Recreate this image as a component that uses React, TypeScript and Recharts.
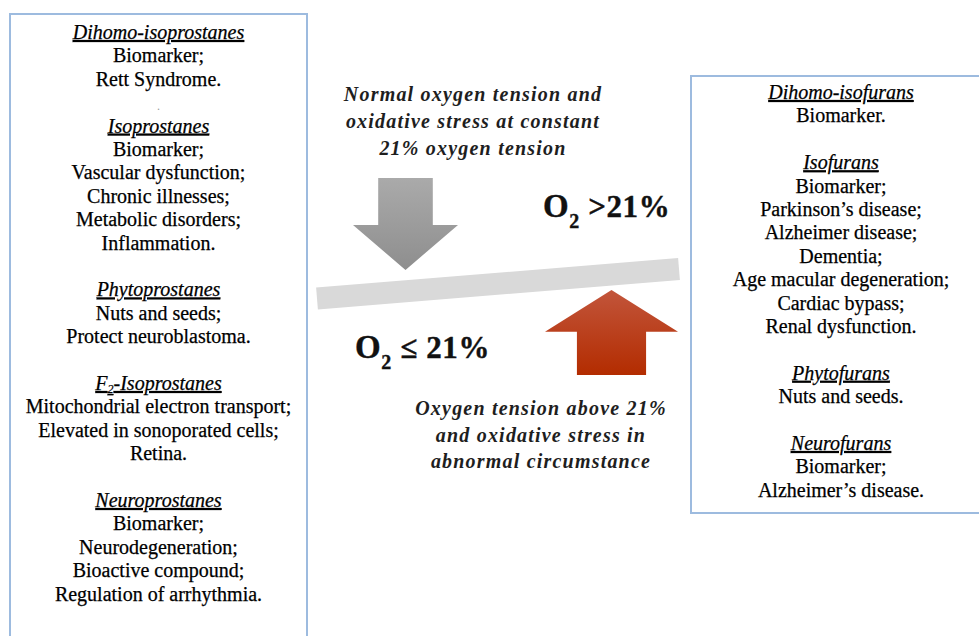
import React from 'react';
import { ComposedChart, XAxis, YAxis, Scatter, ReferenceArea, ReferenceLine } from 'recharts';

const W = 979;
const H = 636;

// ---- text content ----
const leftTitles = ['Dihomo-isoprostanes', 'Isoprostanes', 'Phytoprostanes', 'F_2-Isoprostanes', 'Neuroprostanes'];
const leftItems = [
  ['Biomarker;', 'Rett Syndrome.'],
  ['Biomarker;', 'Vascular dysfunction;', 'Chronic illnesses;', 'Metabolic disorders;', 'Inflammation.'],
  ['Nuts and seeds;', 'Protect neuroblastoma.'],
  ['Mitochondrial electron transport;', 'Elevated in sonoporated cells;', 'Retina.'],
  ['Biomarker;', 'Neurodegeneration;', 'Bioactive compound;', 'Regulation of arrhythmia.'],
];
const leftSeparators = ['.', '', '', '', ''];

const rightTitles = ['Dihomo-isofurans', 'Isofurans', 'Phytofurans', 'Neurofurans'];
const rightItems = [
  ['Biomarker.'],
  ['Biomarker;', 'Parkinson’s disease;', 'Alzheimer disease;', 'Dementia;', 'Age macular degeneration;', 'Cardiac bypass;', 'Renal dysfunction.'],
  ['Nuts and seeds.'],
  ['Biomarker;', 'Alzheimer’s disease.'],
];
const rightSeparators = ['', '', '', ''];

const topCaption = ['Normal oxygen tension and', 'oxidative stress at constant', '21% oxygen tension'];
const bottomCaption = ['Oxygen tension above 21%', 'and oxidative stress in', 'abnormal circumstance'];
const highLabel = ['O', '2', ' >21%'];
const lowLabel = ['O', '2', ' ≤ 21%'];

// ---- layout ----
const LINE = 23.4;
const FONT = "'Liberation Serif', 'Times New Roman', serif";

type Line = { x: number; y: number; text: string; kind: string };

function buildColumn(titles: string[], items: string[][], seps: string[], cx: number, y0: number): Line[] {
  const out: Line[] = [];
  let i = 0;
  titles.forEach((t, g) => {
    out.push({ x: cx, y: y0 + i * LINE, text: t, kind: 'title' });
    i++;
    items[g].forEach((s) => {
      out.push({ x: cx, y: y0 + i * LINE, text: s, kind: 'body' });
      i++;
    });
    if (seps[g]) out.push({ x: cx, y: y0 + i * LINE + 1, text: seps[g], kind: 'dot' });
    i++;
  });
  return out;
}

const leftLines = buildColumn(leftTitles, leftItems, leftSeparators, 158.5, 39);
const rightLines = buildColumn(rightTitles, rightItems, rightSeparators, 841, 99);
const topLines: Line[] = topCaption.map((t, i) => ({ x: 473, y: 101 + i * 27, text: t, kind: 'caption' }));
const bottomLines: Line[] = bottomCaption.map((t, i) => ({ x: 541, y: 415 + i * 26.5, text: t, kind: 'caption' }));
const bigLines: Line[] = [
  { x: 543, y: 217, text: highLabel.join('|'), kind: 'big' },
  { x: 355, y: 358, text: lowLabel.join('|'), kind: 'big' },
];

function renderSub(text: string) {
  const m = text.split(/_(\d)/);
  if (m.length === 1) return text;
  return [
    <tspan key="a">{m[0]}</tspan>,
    <tspan key="b" fontSize={12} dy={3}>{m[1]}</tspan>,
    <tspan key="c" dy={-3}>{m[2]}</tspan>,
  ];
}

const TextShape = (props: any) => {
  const { cx, cy, payload } = props;
  if (cx == null || cy == null || !payload) return <g />;
  const { text, kind } = payload as Line;
  if (kind === 'big') {
    const [a, b, c] = text.split('|');
    return (
      <text x={cx} y={cy} fontFamily={FONT} fontWeight="bold" fontSize={31} letterSpacing={0.6}
        fill="#111" stroke="#111" strokeWidth={0.4} textAnchor="start">
        <tspan fontSize={33}>{a}</tspan>
        <tspan fontSize={20} dy={11}>{b}</tspan>
        <tspan dy={-11}>{c}</tspan>
      </text>
    );
  }
  if (kind === 'caption') {
    return (
      <text x={cx} y={cy} fontFamily={FONT} fontWeight="bold" fontStyle="italic" fontSize={20}
        letterSpacing={1.2} fill="#1e1e1e" textAnchor="middle">
        {text}
      </text>
    );
  }
  if (kind === 'dot') {
    return (
      <text x={cx} y={cy} fontFamily={FONT} fontSize={12} fill="#9a9a9a" textAnchor="middle">{text}</text>
    );
  }
  const isTitle = kind === 'title';
  return (
    <text x={cx} y={cy} fontFamily={FONT} fontSize={20} fill="#000" stroke="#000" strokeWidth={0.25}
      textAnchor="middle"
      fontStyle={isTitle ? 'italic' : 'normal'} textDecoration={isTitle ? 'underline' : 'none'}>
      {renderSub(text)}
    </text>
  );
};

const makeArrow = (id: string, c1: string, c2: string, up: boolean) => (props: any) => {
  const { x, y, width, height } = props;
  if (x == null) return <g />;
  const sw = width * 0.26; // half shaft width
  const mid = x + width / 2;
  const head = height * 0.49;
  let pts: number[][];
  if (!up) {
    pts = [
      [mid - sw, y], [mid + sw, y], [mid + sw, y + height - head], [x + width, y + height - head],
      [mid, y + height], [x, y + height - head], [mid - sw, y + height - head],
    ];
  } else {
    pts = [
      [mid, y], [x + width, y + head], [mid + sw, y + head], [mid + sw, y + height],
      [mid - sw, y + height], [mid - sw, y + head], [x, y + head],
    ];
  }
  return (
    <g>
      <defs>
        <linearGradient id={id} x1="0" y1="0" x2="0" y2="1">
          <stop offset="0%" stopColor={c1} />
          <stop offset="100%" stopColor={c2} />
        </linearGradient>
      </defs>
      <polygon points={pts.map((p) => p.join(',')).join(' ')} fill={`url(#${id})`} />
    </g>
  );
};

const GrayArrow = makeArrow('grayGrad', '#aaaaaa', '#8e8e8e', false);
const RedArrow = makeArrow('redGrad', '#c2553b', '#b32c00', true);

export default function App() {
  return (
    <div style={{ position: 'absolute', left: 0, top: 0, width: W, height: H, background: '#ffffff' }}>
      <ComposedChart width={W} height={H} margin={{ top: 0, right: 0, bottom: 0, left: 0 }}>
        <XAxis type="number" dataKey="x" domain={[0, W]} hide allowDataOverflow />
        <YAxis type="number" dataKey="y" domain={[0, H]} reversed hide allowDataOverflow />

        <ReferenceArea x1={10} x2={307} y1={14} y2={660} ifOverflow="visible"
          fill="#ffffff" fillOpacity={1} stroke="#9dbbdf" strokeWidth={2} />
        <ReferenceArea x1={691} x2={1000} y1={76} y2={513} ifOverflow="visible"
          fill="#ffffff" fillOpacity={1} stroke="#9dbbdf" strokeWidth={2} />

        <ReferenceLine segment={[{ x: 317, y: 298.5 }, { x: 679, y: 269 }]} stroke="#d9d9d9"
          strokeWidth={22} ifOverflow="visible" />

        <ReferenceArea x1={353} x2={458} y1={178} y2={270} ifOverflow="visible" shape={GrayArrow} />
        <ReferenceArea x1={545} x2={678} y1={290} y2={375} ifOverflow="visible" shape={RedArrow} />

        <Scatter data={leftLines} dataKey="y" shape={TextShape} isAnimationActive={false} />
        <Scatter data={rightLines} dataKey="y" shape={TextShape} isAnimationActive={false} />
        <Scatter data={topLines} dataKey="y" shape={TextShape} isAnimationActive={false} />
        <Scatter data={bottomLines} dataKey="y" shape={TextShape} isAnimationActive={false} />
        <Scatter data={bigLines} dataKey="y" shape={TextShape} isAnimationActive={false} />
      </ComposedChart>
    </div>
  );
}
